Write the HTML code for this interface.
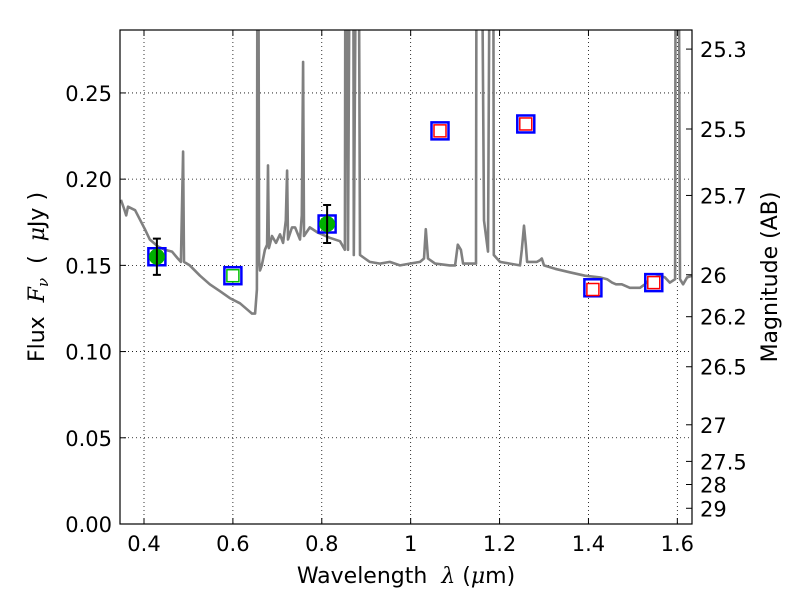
<!DOCTYPE html>
<html><head><meta charset="utf-8"><style>
body{margin:0;background:#fff;}
svg text{font-family:"DejaVu Sans","Liberation Sans",sans-serif;fill:#000;}
</style></head><body>
<svg id="chart" width="800" height="600" xmlns="http://www.w3.org/2000/svg">
<defs><clipPath id="plotclip"><rect x="120" y="30" width="572" height="494"/></clipPath></defs>
<rect x="0" y="0" width="800" height="600" fill="#fff"/>
<g id="grid"></g>
<g id="spec" clip-path="url(#plotclip)"></g>
<g id="marks" clip-path="url(#plotclip)"></g>
<rect x="120" y="30" width="572" height="494" fill="none" stroke="#000" stroke-width="1.2"/>
<g id="axes"></g>
<text x="406" y="583" font-size="22" text-anchor="middle" xml:space="preserve">Wavelength  <tspan font-style="italic" font-family="DejaVu Serif, serif">λ</tspan> (<tspan font-style="italic" font-family="DejaVu Serif, serif">μ</tspan>m)</text>
<text transform="translate(44,277) rotate(-90)" font-size="22" text-anchor="middle" xml:space="preserve">Flux  <tspan font-style="italic" font-family="DejaVu Serif, serif">F</tspan><tspan font-style="italic" font-size="15" dy="4" font-family="DejaVu Serif, serif">ν</tspan><tspan dy="-4">  (  </tspan><tspan font-style="italic" font-family="DejaVu Serif, serif">μ</tspan>Jy )</text>
<text transform="translate(777,277) rotate(-90)" font-size="22" text-anchor="middle">Magnitude (AB)</text>
</svg>
<script>
const specWave=[0.348,0.355,0.360,0.364,0.380,0.402,0.413,0.431,0.447,0.463,0.476,0.483,0.488,0.490,0.503,0.526,0.548,0.571,0.593,0.616,0.634,0.643,0.650,0.654,0.656,0.659,0.661,0.665,0.672,0.677,0.679,0.681,0.688,0.697,0.706,0.713,0.719,0.722,0.724,0.733,0.740,0.751,0.755,0.758,0.760,0.773,0.791,0.800,0.818,0.841,0.852,0.854,0.859,0.866,0.870,0.872,0.881,0.886,0.897,0.908,0.931,0.953,0.976,0.998,1.021,1.030,1.034,1.039,1.055,1.088,1.100,1.106,1.113,1.118,1.147,1.149,1.156,1.165,1.174,1.181,1.185,1.187,1.201,1.223,1.246,1.250,1.255,1.259,1.262,1.284,1.291,1.295,1.300,1.325,1.358,1.392,1.426,1.442,1.453,1.462,1.475,1.493,1.516,1.527,1.538,1.550,1.561,1.572,1.583,1.595,1.597,1.601,1.606,1.613,1.622,1.633];
const specFlux=[0.188,0.183,0.179,0.184,0.182,0.171,0.165,0.161,0.159,0.158,0.154,0.152,0.216,0.152,0.150,0.144,0.139,0.135,0.131,0.128,0.124,0.122,0.122,0.136,0.5,0.153,0.147,0.150,0.159,0.162,0.208,0.160,0.167,0.163,0.168,0.163,0.176,0.205,0.165,0.172,0.172,0.165,0.179,0.268,0.167,0.172,0.169,0.168,0.166,0.164,0.159,0.5,0.159,0.5,0.5,0.156,0.5,0.156,0.154,0.152,0.151,0.152,0.150,0.151,0.152,0.154,0.171,0.154,0.151,0.150,0.150,0.162,0.159,0.151,0.151,0.5,0.5,0.176,0.158,0.5,0.5,0.156,0.152,0.151,0.150,0.159,0.173,0.162,0.152,0.152,0.153,0.154,0.150,0.148,0.146,0.144,0.143,0.142,0.140,0.139,0.139,0.137,0.137,0.139,0.142,0.143,0.144,0.143,0.140,0.142,0.5,0.5,0.142,0.139,0.143,0.144];
const detWave=[0.429,0.812];
const detFlux=[0.155,0.174];
const detErr=[0.0105,0.011];
const modelWave=[0.429,0.600,0.812,1.066,1.259,1.410,1.547];
const modelFlux=[0.155,0.144,0.174,0.228,0.232,0.137,0.140];
const obsWave=[0.600,1.066,1.259,1.410,1.547];
const obsFlux=[0.144,0.228,0.232,0.136,0.140];
const obsColor=["#00c000","red","red","red","red"];
const xTicks=[0.4,0.6,0.8,1.0,1.2,1.4,1.6];
const xTickLabels=["0.4","0.6","0.8","1","1.2","1.4","1.6"];
const yTicks=[0,0.05,0.10,0.15,0.20,0.25];
const yTickLabels=["0.00","0.05","0.10","0.15","0.20","0.25"];
const magTicks=[25.3,25.5,25.7,26,26.2,26.5,27,27.5,28,29];
const magLabels=["25.3","25.5","25.7","26","26.2","26.5","27","27.5","28","29"];

const X0=120,X1=692,Y0=30,Y1=524,xmin=0.346,xmax=1.633,ymin=0,ymax=0.2865;
const sx=v=>X0+(v-xmin)/(xmax-xmin)*(X1-X0);
const sy=v=>Y1-(v-ymin)/(ymax-ymin)*(Y1-Y0);
const NS="http://www.w3.org/2000/svg";
function mk(tag,attrs,parent){const e=document.createElementNS(NS,tag);for(const k in attrs)e.setAttribute(k,attrs[k]);parent.appendChild(e);return e;}
const grid=document.getElementById('grid'),axes=document.getElementById('axes'),spec=document.getElementById('spec'),marks=document.getElementById('marks');

xTicks.forEach((t,i)=>{
  const x=sx(t);
  const g=mk('line',{x1:x,x2:x,y1:Y0,y2:Y1,stroke:'#000','stroke-width':0.8,'stroke-dasharray':'1,3'},grid);
  
  
  mk('line',{x1:x,x2:x,y1:Y1,y2:Y1-6,stroke:'#000'},axes);
  mk('line',{x1:x,x2:x,y1:Y0,y2:Y0+6,stroke:'#000'},axes);
  const l=mk('text',{x:x,y:Y1+27,'font-size':21,'text-anchor':'middle'},axes);
  l.textContent=xTickLabels[i];
  
  
});
yTicks.forEach((t,i)=>{
  const y=sy(t);
  const g=mk('line',{x1:X0,x2:X1,y1:y,y2:y,stroke:'#000','stroke-width':0.8,'stroke-dasharray':'1,3'},grid);
  
  
  mk('line',{x1:X0,x2:X0+6,y1:y,y2:y,stroke:'#000'},axes);
  const l=mk('text',{x:X0-8,y:y+8,'font-size':21,'text-anchor':'end'},axes);
  l.textContent=yTickLabels[i];
  
  
});
magTicks.forEach((m,i)=>{
  const y=sy(Math.pow(10,(23.9-m)/2.5));
  mk('line',{x1:X1,x2:X1-6,y1:y,y2:y,stroke:'#000'},axes);
  const l=mk('text',{x:X1+8,y:y+8,'font-size':21},axes);
  l.textContent=magLabels[i];
  
  
});

const d=specWave.map((w,i)=>(i?'L':'M')+sx(w).toFixed(1)+','+sy(specFlux[i]).toFixed(1)).join(' ');
const p=mk('path',{d:d,fill:'none',stroke:'#808080','stroke-width':2.6,'stroke-linejoin':'round'},spec);



modelWave.forEach((w,i)=>{
  const x=sx(w),y=sy(modelFlux[i]);
  const r=mk('rect',{x:x-8.5,y:y-8.5,width:17,height:17,fill:'none',stroke:'#0000ff','stroke-width':2.5},marks);
  
  
});
obsWave.forEach((w,i)=>{
  const x=sx(w),y=sy(obsFlux[i]);
  const r=mk('rect',{x:x-6,y:y-6,width:12,height:12,fill:'#fff',stroke:obsColor[i],'stroke-width':1.5},marks);
  
  
});
detWave.forEach((w,i)=>{
  const x=sx(w),y=sy(detFlux[i]),yt=sy(detFlux[i]+detErr[i]),yb=sy(detFlux[i]-detErr[i]);
  const c=mk('circle',{cx:x,cy:y,r:8,fill:'#00b000'},marks);
  
  
  const e=mk('path',{d:`M${x},${yt}L${x},${yb}M${x-4},${yt}L${x+4},${yt}M${x-4},${yb}L${x+4},${yb}`,stroke:'#000','stroke-width':2,fill:'none'},marks);
  
  
});
</script>
</body></html>
